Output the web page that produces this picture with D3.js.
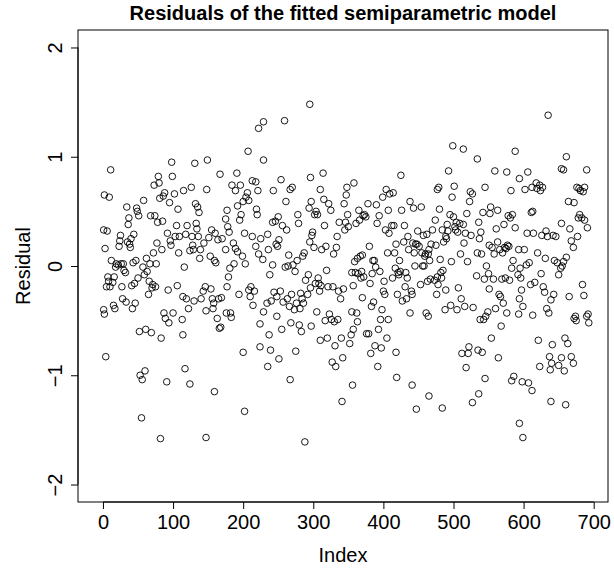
<!DOCTYPE html>
<html lang="en">
	<head>
		<meta charset="utf-8">
		<title>Residuals of the fitted semiparametric model</title>
		<script type="text/javascript" src="https://cdn.jsdelivr.net/npm/d3@7/dist/d3.min.js"></script>
		<style type="text/css">
			body { margin: 0; background: white; }
			text { font-family: "Liberation Sans", Arial, sans-serif; fill: black; }
		</style>
	</head>
	<body>
		<script type="text/javascript">
			var w = 614;
			var h = 573;

			var index = [
				11,2,9,34,48,49,51,37,36,1,6,44,25,40,24,35,38,23,39,3,12,19,22,18,26,29,30,32,43,47,7,14,8,5,10,16,27,41,45,50,28,33,15,17,1,2,46,42,52,4,53,
				98,79,99,73,80,58,88,86,81,102,95,107,68,74,78,85,105,92,103,109,96,77,97,84,108,72,62,67,76,57,63,59,66,71,75,70,65,93,106,87,100,89,94,61,69,83,60,56,91,55,82,
				131,149,167,126,148,115,132,135,137,120,133,134,118,127,136,155,160,164,170,151,144,128,139,124,129,153,138,159,161,116,146,143,154,114,119,130,140,156,158,165,169,122,147,157,163,166,168,113,114,117,124,159,147,
				229,222,207,229,191,184,196,213,218,189,221,206,204,208,200,192,219,177,197,220,195,175,178,180,202,213,225,186,218,175,189,192,199,187,203,222,228,181,179,177,194,211,208,216,210,214,229,176,182,183,224,200,224,202,
				259,254,243,267,270,261,278,242,246,250,256,262,279,235,247,251,249,236,265,287,285,242,260,264,271,274,277,238,289,244,253,248,240,234,257,263,269,266,273,276,282,284,286,281,248,268,280,283,255,237,239,251,275,235,267,288,
				295,296,314,310,348,347,315,322,325,344,349,297,294,302,306,304,316,337,346,350,345,299,298,334,295,301,312,318,333,329,319,293,307,303,308,311,309,321,328,336,339,343,296,292,305,297,323,326,317,330,335,310,320,331,340,352,327,332,342,341,
				358,404,399,409,378,390,365,371,375,373,361,366,394,391,407,403,408,380,406,367,359,363,370,385,387,389,395,355,360,364,369,372,368,384,381,357,401,400,402,370,386,383,398,355,362,363,396,407,357,354,376,379,393,405,388,382,397,392,356,
				425,414,438,443,454,426,412,415,430,449,457,462,470,435,429,418,442,446,448,451,455,459,416,436,444,460,464,465,468,423,445,456,458,466,417,413,421,422,424,432,434,463,467,453,431,420,440,441,433,427,438,461,464,418,419,441,465,447,
				499,514,493,501,477,479,524,527,523,498,480,519,495,500,474,504,509,514,491,484,492,502,506,503,517,525,489,490,486,515,475,510,481,520,497,485,482,477,473,483,478,489,507,511,476,496,488,505,516,528,522,512,521,518,527,484,
				588,534,559,576,545,582,553,552,542,563,536,539,537,584,578,581,572,561,588,551,555,563,566,570,573,577,579,575,540,534,558,585,583,547,550,533,544,557,569,574,580,551,565,567,571,560,549,546,543,538,576,568,554,535,541,564,545,586,583,536,
				635,606,594,602,612,618,623,627,619,624,611,613,605,614,626,632,634,642,646,593,601,620,631,644,648,650,604,608,595,592,625,596,610,616,628,597,630,643,639,594,599,593,613,633,636,621,641,637,640,638,623,650,598,607,612,639,594,599,
				661,657,654,690,676,679,681,685,687,664,672,654,680,683,678,687,691,666,677,668,671,661,657,655,653,684,686,665,672,675,674,690,693,692,659,663,654,668,671,658,660
			];
			var residual = [
				0.88,0.65,0.63,0.54,0.53,0.50,0.46,0.44,0.38,0.33,0.32,0.29,0.28,0.25,0.23,0.22,0.20,0.18,0.17,0.16,0.05,0.02,0.01,-0.01,0.02,0.02,-0.04,-0.06,0.03,0.05,-0.10,-0.15,-0.14,-0.19,-0.19,-0.10,-0.19,-0.18,-0.16,-0.11,-0.30,-0.33,-0.36,-0.39,-0.40,-0.44,-0.34,-0.39,-0.60,-0.83,-1.00,
				0.95,0.82,0.82,0.74,0.76,0.60,0.67,0.64,0.62,0.66,0.58,0.52,0.46,0.46,0.40,0.41,0.37,0.30,0.27,0.27,0.23,0.21,0.19,0.15,0.12,0.12,0.07,0.02,0.02,-0.01,-0.05,-0.08,-0.14,-0.17,-0.19,-0.20,-0.26,-0.22,-0.18,-0.43,-0.43,-0.48,-0.52,-0.58,-0.61,-0.66,-0.96,-1.04,-1.06,-1.39,-1.58,
				0.94,0.97,0.84,0.72,0.70,0.69,0.57,0.54,0.49,0.37,0.39,0.34,0.29,0.27,0.27,0.33,0.30,0.24,0.25,0.26,0.21,0.19,0.15,0.14,0.15,0.09,0.07,0.05,0.03,-0.01,-0.19,-0.23,-0.21,-0.28,-0.30,-0.32,-0.30,-0.30,-0.34,-0.30,-0.29,-0.39,-0.41,-0.39,-0.48,-0.57,-0.56,-0.49,-0.63,-0.94,-1.08,-1.15,-1.57,
				1.32,1.26,1.05,0.97,0.85,0.74,0.74,0.78,0.77,0.69,0.69,0.67,0.63,0.60,0.59,0.55,0.52,0.51,0.47,0.47,0.42,0.43,0.36,0.31,0.30,0.27,0.25,0.21,0.18,0.15,0.16,0.13,0.09,0.02,0.02,0.11,0.06,-0.02,-0.10,-0.19,-0.26,-0.19,-0.22,-0.23,-0.28,-0.36,-0.42,-0.43,-0.43,-0.47,-0.53,-0.79,-0.74,-1.33,
				1.33,0.79,0.69,0.70,0.72,0.59,0.47,0.40,0.41,0.45,0.37,0.33,0.39,0.29,0.20,0.24,0.18,0.15,0.10,0.12,0.09,0.01,-0.01,0.00,0.01,-0.05,0.05,-0.08,-0.13,-0.24,-0.23,-0.28,-0.32,-0.34,-0.33,-0.30,-0.26,-0.37,-0.40,-0.34,-0.25,-0.30,-0.34,-0.39,-0.46,-0.52,-0.54,-0.60,-0.58,-0.63,-0.77,-0.85,-0.78,-0.92,-1.04,-1.61,
				1.48,0.81,0.85,0.70,0.72,0.65,0.61,0.57,0.51,0.57,0.47,0.59,0.53,0.47,0.47,0.50,0.37,0.40,0.40,0.36,0.33,0.31,0.28,0.27,0.22,0.17,0.15,0.18,0.17,0.11,-0.04,-0.08,-0.11,-0.16,-0.16,-0.18,-0.23,-0.19,-0.19,-0.23,-0.30,-0.21,-0.20,-0.26,-0.42,-0.55,-0.44,-0.49,-0.50,-0.51,-0.49,-0.68,-0.66,-0.73,-0.66,-0.71,-0.88,-0.92,-0.84,-1.24,
				0.76,0.70,0.63,0.66,0.57,0.56,0.51,0.46,0.45,0.47,0.39,0.42,0.46,0.39,0.51,0.33,0.30,0.18,0.12,0.09,0.04,0.07,0.10,0.05,0.05,-0.01,-0.05,-0.06,-0.06,-0.07,-0.05,-0.10,-0.11,-0.07,-0.16,-0.18,-0.14,-0.23,-0.26,-0.29,-0.33,-0.37,-0.40,-0.42,-0.43,-0.51,-0.49,-0.49,-0.58,-0.63,-0.62,-0.62,-0.58,-0.66,-0.73,-0.80,-0.75,-0.92,-1.09,
				0.83,0.67,0.59,0.53,0.54,0.51,0.37,0.37,0.37,0.32,0.28,0.29,0.33,0.27,0.22,0.20,0.21,0.20,0.20,0.18,0.12,0.09,0.12,0.15,0.12,0.11,0.11,0.15,0.20,0.05,0.00,0.00,0.00,0.05,-0.02,-0.11,-0.06,-0.08,-0.05,-0.06,-0.11,-0.14,-0.12,-0.17,-0.19,-0.26,-0.23,-0.26,-0.30,-0.32,-0.43,-0.43,-0.46,-0.79,-1.02,-1.09,-1.19,-1.31,
				1.10,1.07,0.87,0.73,0.70,0.72,0.68,0.66,0.59,0.63,0.52,0.48,0.47,0.45,0.42,0.40,0.39,0.38,0.38,0.33,0.32,0.36,0.31,0.33,0.30,0.28,0.27,0.25,0.22,0.21,0.19,0.11,0.06,0.04,0.04,-0.04,-0.06,-0.10,-0.13,-0.11,-0.17,-0.22,-0.20,-0.30,-0.26,-0.36,-0.40,-0.40,-0.37,-0.38,-0.74,-0.80,-0.80,-0.93,-1.25,-1.30,
				1.05,0.98,0.87,0.86,0.72,0.69,0.54,0.48,0.49,0.51,0.40,0.31,0.25,0.47,0.46,0.44,0.38,0.34,0.35,0.19,0.17,0.22,0.15,0.12,0.17,0.19,0.18,0.16,0.11,0.12,0.11,0.05,-0.02,0.00,-0.07,-0.09,-0.12,-0.12,-0.12,-0.11,-0.13,-0.21,-0.26,-0.28,-0.34,-0.39,-0.42,-0.46,-0.49,-0.49,-0.43,-0.55,-0.66,-0.77,-0.79,-0.84,-1.03,-1.01,-1.05,-1.17,
				1.38,0.86,0.80,0.70,0.72,0.76,0.74,0.72,0.71,0.69,0.49,0.50,0.30,0.30,0.28,0.32,0.27,0.28,0.27,0.15,0.15,0.12,0.07,0.05,0.03,-0.08,0.01,0.03,-0.02,-0.08,-0.07,-0.11,-0.17,-0.15,-0.19,-0.22,-0.24,-0.26,-0.31,-0.30,-0.37,-0.44,-0.45,-0.39,-0.43,-0.68,-0.72,-0.83,-0.89,-0.95,-0.92,-0.91,-1.06,-1.07,-1.14,-1.24,-1.44,-1.57,
				1.00,0.88,0.89,0.88,0.72,0.71,0.69,0.68,0.72,0.59,0.58,0.39,0.47,0.44,0.44,0.42,0.35,0.34,0.27,0.23,0.17,0.08,0.04,0.00,-0.02,-0.17,-0.27,-0.28,-0.48,-0.50,-0.46,-0.46,-0.52,-0.44,-0.66,-0.71,-0.84,-0.83,-0.89,-0.96,-1.27
			];

			var xTicks = [0, 100, 200, 300, 400, 500, 600, 700];
			var yTicks = [-2, -1, 0, 1, 2];

			var dataset = index.map(function(d, i) { return { i: d, r: residual[i] }; });

			// plot box
			var boxL = 78, boxR = 608, boxT = 30, boxB = 502;
			var fs = 20;

			var xScale = d3.scaleLinear()
				.domain([-35.6, 720.4])
				.range([boxL, boxR]);

			var yScale = d3.scaleLinear()
				.domain([-2.16, 2.16])
				.range([boxB, boxT]);

			var svg = d3.select("body")
						.append("svg")
						.attr("width", w)
						.attr("height", h)
						.style("background", "white");

			// axes (R style: ticks outward, labels below / rotated on the left)
			var xAxis = d3.axisBottom(xScale).tickValues(xTicks).tickSize(7).tickPadding(6);
			var yAxis = d3.axisLeft(yScale).tickValues(yTicks).tickSize(7).tickPadding(5)
				.tickFormat(function(d) { return d < 0 ? "\u2212" + Math.abs(d) : d; });

			var gx = svg.append("g")
				.attr("transform", "translate(0," + boxB + ")")
				.call(xAxis);
			gx.select(".domain").attr("d", "M" + xScale(0) + ",0H" + xScale(700));
			gx.selectAll("text").attr("font-size", fs).attr("font-family", "Liberation Sans, Arial, sans-serif");

			var gy = svg.append("g")
				.attr("transform", "translate(" + boxL + ",0)")
				.call(yAxis);
			gy.select(".domain").attr("d", "M0," + yScale(-2) + "V" + yScale(2));
			gy.selectAll("text")
				.attr("font-size", fs)
				.attr("font-family", "Liberation Sans, Arial, sans-serif")
				.attr("text-anchor", "middle")
				.attr("dy", null)
				.attr("x", null)
				.attr("transform", "translate(-16,0) rotate(-90)");

			svg.selectAll(".tick line").attr("stroke", "black");
			svg.selectAll(".domain").attr("stroke", "black");

			svg.append("rect")
				.attr("x", boxL)
				.attr("y", boxT)
				.attr("width", boxR - boxL)
				.attr("height", boxB - boxT)
				.attr("fill", "none")
				.attr("stroke", "black")
				.attr("stroke-width", 1);

			svg.selectAll("circle")
				.data(dataset)
				.enter()
				.append("circle")
				.attr("cx", function(d) { return xScale(d.i); })
				.attr("cy", function(d) { return yScale(d.r); })
				.attr("r", 3.3)
				.attr("fill", "none")
				.attr("stroke", "black")
				.attr("stroke-width", 0.9);

			svg.append("text")
				.text("Residuals of the fitted semiparametric model")
				.attr("x", (boxL + boxR) / 2)
				.attr("y", 20)
				.attr("text-anchor", "middle")
				.attr("font-weight", "bold")
				.attr("font-size", fs);

			svg.append("text")
				.text("Index")
				.attr("x", (boxL + boxR) / 2)
				.attr("y", 562)
				.attr("text-anchor", "middle")
				.attr("font-size", fs);

			svg.append("text")
				.text("Residual")
				.attr("transform", "translate(30," + (boxT + boxB) / 2 + ") rotate(-90)")
				.attr("text-anchor", "middle")
				.attr("font-size", fs);
		</script>
	</body>
</html>
